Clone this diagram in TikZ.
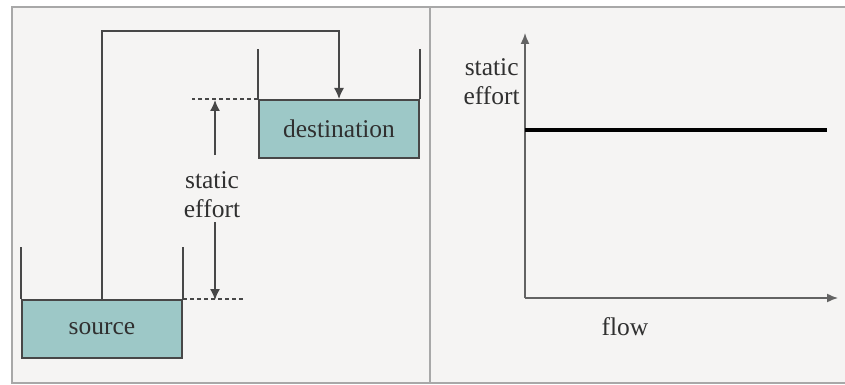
\documentclass[tikz,border=0pt]{standalone}
\usepackage{fontspec}
\setmainfont{Liberation Serif}
\usetikzlibrary{arrows.meta}
\definecolor{bgc}{HTML}{F5F4F3}
\definecolor{framec}{HTML}{A8A8A8}
\definecolor{water}{HTML}{9DC8C7}
\definecolor{wall}{HTML}{474747}
\definecolor{txt}{HTML}{303030}
\tikzset{
  tank/.style={draw=wall, line width=2pt, fill=water, rectangle, minimum height=58pt, text=txt, font=\fontsize{25.5}{29}\selectfont},
  wallline/.style={draw=wall, line width=2pt},
  pipe/.style={draw=wall, line width=1.5pt},
  arr/.style={-{Latex[length=11pt,width=10pt]}},
  levelline/.style={draw=wall, line width=1.6pt, dash pattern=on 4pt off 3pt},
  lbl/.style={text=txt, font=\fontsize{25.5}{29}\selectfont, align=center, inner sep=0pt},
  axis/.style={draw=wall!85, line width=1.5pt, -{Latex[length=11pt,width=9pt]}}
}
\begin{document}
\begin{tikzpicture}[x=1pt,y=-1pt]
\useasboundingbox (0,0) rectangle (845,385);
\fill[white] (0,0) rectangle (845,385);
\fill[bgc] (12,7) rectangle (845,383);
\draw[framec, line width=1.2pt] (845,7) -- (12,7) -- (12,383) -- (845,383);
\draw[framec, line width=1.2pt] (430,7) -- (430,383);
% tanks
\node[tank, minimum width=160pt] (src) at (102,329) {source};
\node[tank, minimum width=160pt] (dst) at (339,129) {destination};
\draw[wallline] (src.north west) -- ++(0,-52);
\draw[wallline] (src.north east) -- ++(0,-52);
\draw[wallline] (dst.north west) -- ++(0,-50);
\draw[wallline] (dst.north east) -- ++(0,-50);
% pipe
\draw[pipe, arr] (src.north) -- ++(0,-268) -| (dst.north);
% dashed levels
\draw[levelline] (dst.north west) -- ++(-66,0);
\draw[levelline] (src.north east) -- ++(60,0);
% static effort
\node[lbl] (se) at (212,195) {static\\effort};
\coordinate (u1) at (215,155);
\coordinate (u2) at (215,100);
\coordinate (d1) at (215,222);
\coordinate (d2) at (215,300);
\draw[pipe, arr] (u1) -- (u2);
\draw[pipe, arr] (d1) -- (d2);
% graph
\coordinate (O) at (525,298);
\coordinate (ytop) at (525,33);
\coordinate (xend) at (838,298);
\draw[axis] (O) -- (ytop);
\draw[axis] (O) -- (xend);
\coordinate (c1) at (525,130);
\coordinate (c2) at (827,130);
\draw[black, line width=4.5pt] (c1) -- (c2);
\node[lbl, anchor=east] (yl) at (520,82) {static\\effort};
\node[lbl] (xl) at (625,327) {flow};
\end{tikzpicture}
\end{document}
